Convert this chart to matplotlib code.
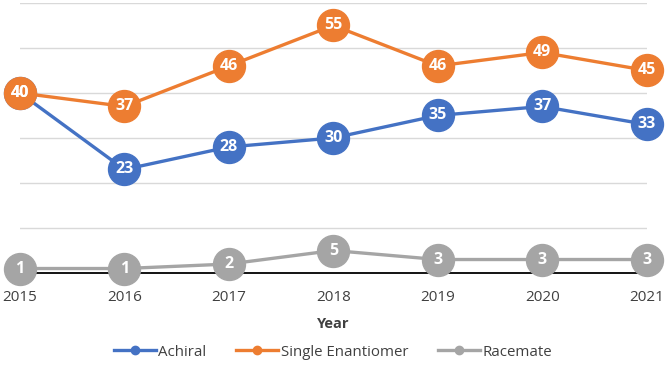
import matplotlib.pyplot as plt
from matplotlib.lines import Line2D

plt.rcParams['font.family'] = ['Open Sans', 'DejaVu Sans']

# data
years = [2015, 2016, 2017, 2018, 2019, 2020, 2021]
achiral = [40, 23, 28, 30, 35, 37, 33]
single = [40, 37, 46, 55, 46, 49, 45]
racemate = [1, 1, 2, 5, 3, 3, 3]

names = ['Achiral', 'Single Enantiomer', 'Racemate']
colors = ['#4472C4', '#ED7D31', '#A5A5A5']

fig = plt.figure(figsize=(6.66, 3.65), dpi=100)
ax = fig.add_axes([0.030, 0.252, 0.941, 0.740])

for vals, col, name in zip([achiral, single, racemate], colors, names):
    ax.plot(years, vals, color=col, lw=2.4, marker='o', ms=23,
            markeredgecolor=col, clip_on=False, zorder=3, label=name)
    for x, v in zip(years, vals):
        ax.text(x, v, str(v), color='white', fontsize=11.5, fontweight='bold',
                ha='center', va='center', zorder=4)

ax.set_xlim(2015, 2021)
ax.set_ylim(0, 60)
ax.set_yticks(range(0, 61, 10))
ax.set_yticklabels([])
ax.set_xticks(years)
ax.tick_params(length=0, labelsize=11, colors='#404040', pad=12)
ax.tick_params(axis='y', left=False)
ax.grid(axis='y', color='#D9D9D9', lw=1)
ax.set_axisbelow(True)
for s in ['top', 'right', 'left']:
    ax.spines[s].set_visible(False)
ax.spines['bottom'].set_color('black')
ax.spines['bottom'].set_linewidth(1.3)

ax.set_xlabel('Year', fontsize=10.5, fontweight='bold', color='#404040', labelpad=9)

handles = [Line2D([], [], color=c, lw=2.4, marker='o', ms=6) for c in colors]
fig.legend(handles, names, loc='center', bbox_to_anchor=(0.5, 0.035), ncol=3,
           frameon=False, fontsize=10.8, handlelength=2.8, columnspacing=2.0,
           handletextpad=0.15, labelcolor='#404040')

fig.savefig('out.png', dpi=100)
